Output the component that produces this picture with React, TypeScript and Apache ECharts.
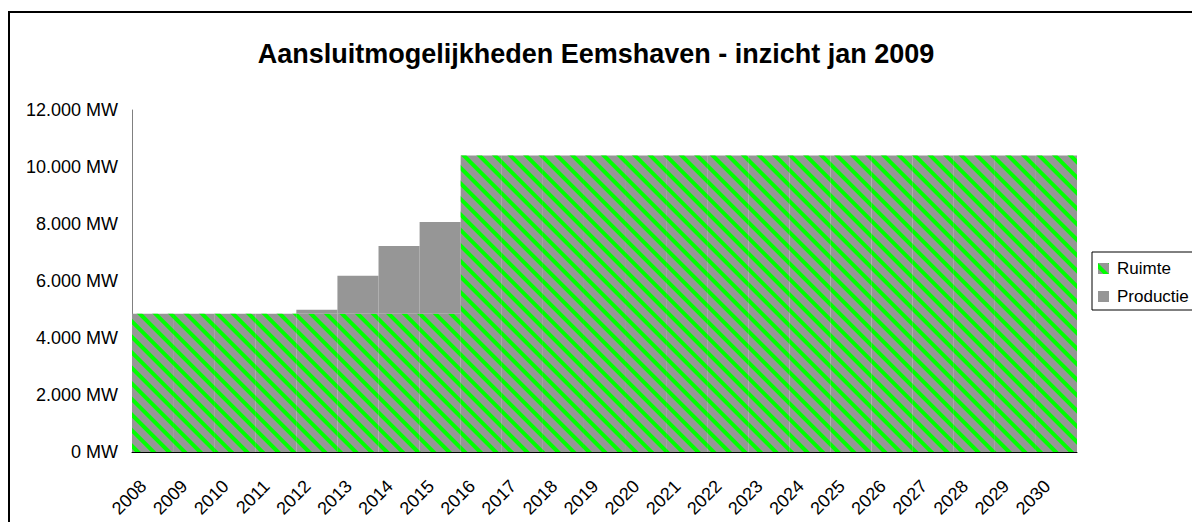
import React, { useEffect, useRef } from "react";
import * as echarts from "echarts";

const years = [
  "2008", "2009", "2010", "2011", "2012", "2013", "2014", "2015", "2016", "2017", "2018", "2019",
  "2020", "2021", "2022", "2023", "2024", "2025", "2026", "2027", "2028", "2029", "2030",
];
const ruimte = [
  4850, 4850, 4850, 4850, 4850, 4850, 4850, 4850, 10400, 10400, 10400, 10400,
  10400, 10400, 10400, 10400, 10400, 10400, 10400, 10400, 10400, 10400, 10400,
];
const productie = [
  0, 0, 0, 0, 140, 1330, 2380, 3220, 0, 0, 0, 0,
  0, 0, 0, 0, 0, 0, 0, 0, 0, 0, 0,
];
const yTicks = [0, 2000, 4000, 6000, 8000, 10000, 12000];

const FONT = "'Liberation Sans', Arial, sans-serif";

function fmt(v: number): string {
  const s = String(Math.round(v));
  return s.replace(/\B(?=(\d{3})+(?!\d))/g, ".") + " MW";
}

export default function App() {
  const ref = useRef<HTMLDivElement>(null);
  useEffect(() => {
    if (!ref.current) return;
    const chart = echarts.init(ref.current, undefined, { renderer: "svg" });
    chart.setOption({
      animation: false,
      backgroundColor: "#ffffff",
      title: {
        text: "Aansluitmogelijkheden Eemshaven - inzicht jan 2009",
        left: "center",
        top: 35,
        textStyle: { fontFamily: FONT, fontSize: 27, fontWeight: "bold", color: "#000" },
      },
      graphic: [
        {
          type: "rect",
          shape: { x: 9, y: 12, width: 1300, height: 700 },
          style: { fill: "none", stroke: "#000", lineWidth: 2 },
          silent: true,
        },
      ],
      legend: {
        orient: "vertical",
        left: 1092,
        top: 252,
        borderColor: "#000",
        borderWidth: 1,
        padding: [8, 6, 5, 6],
        itemWidth: 11,
        itemHeight: 11,
        itemGap: 11,
        textStyle: { fontFamily: FONT, fontSize: 17, color: "#000", padding: [0, 0, 0, 3] },
        data: [
          { name: "Ruimte", icon: "rect" },
          { name: "Productie", icon: "rect" },
        ],
      },
      grid: { left: 132, right: 115, top: 110, bottom: 70, containLabel: false },
      xAxis: {
        type: "category",
        data: years,
        boundaryGap: true,
        axisLine: { show: true, lineStyle: { color: "#000", width: 1 } },
        axisTick: { show: false },
        axisLabel: {
          rotate: 45,
          interval: 0,
          margin: 22,
          padding: [0, 13, 0, 0],
          fontFamily: FONT,
          fontSize: 18,
          color: "#000",
        },
      },
      yAxis: {
        type: "value",
        min: yTicks[0],
        max: yTicks[yTicks.length - 1],
        interval: 2000,
        axisLine: { show: true, lineStyle: { color: "#808080", width: 1 } },
        axisTick: { show: false },
        splitLine: { show: false },
        axisLabel: {
          margin: 14,
          fontFamily: FONT,
          fontSize: 18,
          color: "#000",
          formatter: (v: number) => fmt(v),
        },
      },
      series: [
        {
          name: "Ruimte",
          type: "bar",
          stack: "total",
          data: ruimte,
          barWidth: "100%",
          barCategoryGap: 0,
          itemStyle: {
            color: "#969696",
            decal: {
              symbol: "rect",
              color: "#00ff00",
              dashArrayX: [1, 0],
              dashArrayY: [4, 7],
              rotation: Math.PI / 4,
              symbolSize: 1,
            },
          },
        },
        {
          name: "Productie",
          type: "bar",
          stack: "total",
          data: productie,
          barWidth: "100%",
          barCategoryGap: 0,
          itemStyle: { color: "#969696" },
        },
      ],
    });
    return () => chart.dispose();
  }, []);
  return (
    <div
      ref={ref}
      style={{ position: "fixed", left: 0, top: 0, width: 1192, height: 522 }}
    />
  );
}
